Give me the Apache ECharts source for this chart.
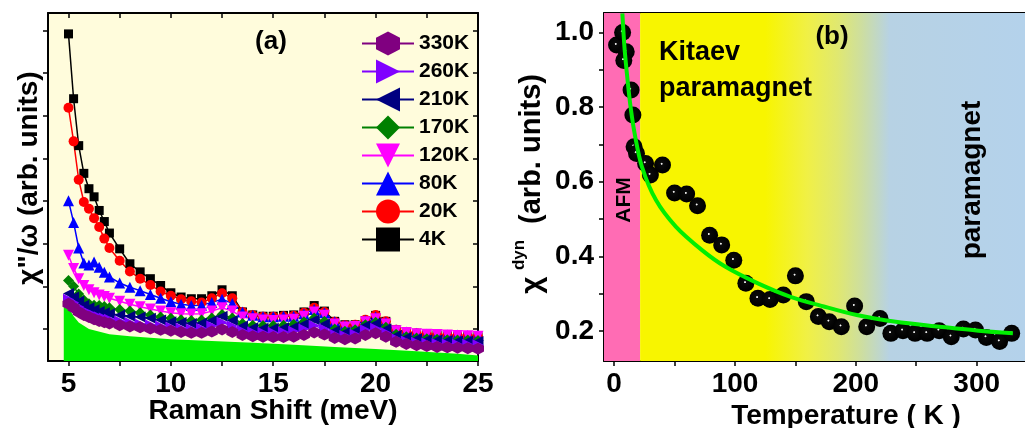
<!DOCTYPE html>
<html>
<head>
<meta charset="utf-8">
<script src="https://cdn.jsdelivr.net/npm/echarts@6/dist/echarts.min.js"></script>
<style>
html,body{margin:0;padding:0;background:#fff;}
#c{width:1025px;height:428px;}
</style>
</head>
<body>
<div id="c"></div>
<script>
// ---------- Panel (a) data: Raman shift (meV) and chi''/omega (arb. units) ----------
const ramanShift = [5,5.25,5.5,5.75,6,6.25,6.5,6.75,7,7.5,8,8.5,9,9.5,10,10.5,11,11.5,12,12.5,13,13.5,14,14.5,15,15.5,16,16.5,17,17.5,18,18.5,19,19.5,20,20.5,21,21.5,22,22.5,23,23.5,24,24.5,25];
const chi4K   = [7.92,6.4,5.3,4.65,4.29,4.1,3.78,3.52,3.25,2.88,2.53,2.34,2.18,2.02,1.85,1.75,1.71,1.71,1.78,1.92,1.78,1.40,1.33,1.30,1.30,1.32,1.33,1.40,1.55,1.42,1.18,1.10,1.10,1.20,1.32,1.18,0.98,0.93,0.90,0.88,0.86,0.85,0.84,0.83,0.82];
const chi20K  = [6.19,5.4,4.5,3.98,3.82,3.6,3.39,3.12,2.9,2.6,2.35,2.18,2.03,1.88,1.78,1.70,1.65,1.62,1.72,1.84,1.72,1.40,1.32,1.29,1.29,1.30,1.31,1.38,1.50,1.40,1.17,1.09,1.10,1.22,1.33,1.18,0.98,0.93,0.90,0.88,0.86,0.85,0.84,0.83,0.82];
const chi80K  = [4.01,3.5,2.9,2.55,2.5,2.57,2.45,2.33,2.22,2.08,1.98,1.90,1.81,1.72,1.64,1.58,1.55,1.56,1.62,1.70,1.60,1.40,1.32,1.29,1.29,1.30,1.30,1.36,1.46,1.38,1.17,1.08,1.09,1.20,1.28,1.16,0.98,0.93,0.90,0.88,0.87,0.86,0.86,0.85,0.85];
const chi120K = [2.73,2.42,2.18,2.02,1.92,1.85,1.80,1.76,1.72,1.65,1.58,1.52,1.47,1.42,1.38,1.36,1.35,1.36,1.42,1.50,1.42,1.28,1.24,1.21,1.20,1.21,1.23,1.30,1.40,1.32,1.12,1.05,1.06,1.17,1.24,1.12,0.96,0.92,0.89,0.88,0.87,0.86,0.85,0.84,0.83];
const chi170K = [2.14,2.0,1.82,1.68,1.59,1.56,1.55,1.53,1.50,1.46,1.42,1.38,1.33,1.28,1.25,1.22,1.20,1.21,1.26,1.34,1.26,1.13,1.09,1.08,1.08,1.09,1.11,1.17,1.26,1.18,1.00,0.95,0.98,1.10,1.16,1.04,0.88,0.82,0.79,0.77,0.76,0.75,0.74,0.74,0.73];
const chi210K = [1.83,1.75,1.65,1.56,1.50,1.45,1.41,1.38,1.36,1.33,1.30,1.28,1.25,1.21,1.17,1.15,1.13,1.14,1.20,1.30,1.20,1.07,1.03,1.02,1.02,1.03,1.05,1.12,1.22,1.12,0.96,0.92,0.95,1.08,1.13,1.00,0.85,0.80,0.77,0.75,0.74,0.73,0.72,0.72,0.71];
const chi260K = [1.70,1.62,1.52,1.44,1.38,1.33,1.29,1.26,1.23,1.19,1.15,1.12,1.10,1.07,1.04,1.02,1.00,1.01,1.07,1.16,1.07,0.96,0.93,0.92,0.92,0.93,0.95,1.00,1.08,1.00,0.88,0.85,0.88,0.98,1.02,0.92,0.78,0.72,0.69,0.67,0.66,0.65,0.64,0.64,0.63];
const chi330K = [1.59,1.50,1.40,1.33,1.28,1.23,1.19,1.16,1.13,1.09,1.06,1.04,1.01,0.98,0.96,0.93,0.91,0.91,0.94,0.99,0.93,0.86,0.83,0.82,0.81,0.81,0.82,0.86,0.92,0.87,0.79,0.76,0.78,0.86,0.90,0.82,0.70,0.65,0.62,0.60,0.58,0.57,0.56,0.55,0.54];
const fillX = [4.77,5,5.25,5.5,6,7,8,10,12,14,16,18,20,22,24,25];
const fillY = [1.58,1.5,1.3,1.15,1.0,0.88,0.83,0.76,0.72,0.68,0.63,0.58,0.53,0.48,0.42,0.38];
const legendNames = ['330K','260K','210K','170K','120K','80K','20K','4K'];
const ramanTicks = [5,7.5,10,12.5,15,17.5,20,22.5,25];
const ramanLabels = [5,10,15,20,25];
const chiTicks = [1,2,3,4,5,6,7,8];

// ---------- Panel (b) data: temperature (K) and chi_dyn ----------
const tempK  = [2,7,10,8,14,15.5,16.5,18.5,26,30,40,50,60,69,79,89,99,109,119,129,140,150,159,169,178,188,199,209,220,229,239,249,259,269,279,289,299,308,319,329];
const chiDyn = [0.966,1.0,0.948,0.925,0.846,0.779,0.694,0.676,0.649,0.618,0.645,0.570,0.567,0.536,0.457,0.431,0.390,0.328,0.288,0.285,0.297,0.348,0.279,0.239,0.225,0.212,0.267,0.212,0.234,0.194,0.201,0.194,0.194,0.201,0.185,0.206,0.203,0.183,0.172,0.194];
const fitT = [6.8,8.7,11.4,13.6,16.9,23,34.6,51,72.7,91.8,119,146,173.5,200.7,233,269,301.5,330];
const fitV = [1.051,0.953,0.863,0.80,0.73,0.64,0.551,0.48,0.417,0.373,0.328,0.292,0.266,0.243,0.225,0.212,0.201,0.194];
const afmRange = [-8.4, 21.5];
const paraRange = [21.5, 340];
const tempTicks = [0,50,100,150,200,250,300];
const tempLabels = [0,100,200,300];
const dynTicks = [0.2,0.3,0.4,0.5,0.6,0.7,0.8,0.9,1.0];
const dynLabels = [0.2,0.4,0.6,0.8,1.0];

const FONT = 'Liberation Sans, Arial, sans-serif';
const pair = (xs, ys) => xs.map((x, i) => [x, ys[i]]);

const hexSym = 'path://M5,0L10,2.9L10,8.1L5,11L0,8.1L0,2.9Z';
const rightTri = 'path://M0,0L10,5L0,10Z';
const leftTri = 'path://M10,0L0,5L10,10Z';
const downTri = 'path://M0,0L10,0L5,10Z';

function lineSeries(name, vals, color, symbol, size) {
  return {
    name, type: 'line', xAxisIndex: 0, yAxisIndex: 0,
    data: pair(ramanShift, vals),
    symbol, symbolSize: size, showSymbol: true,
    lineStyle: { color, width: 1.5 },
    itemStyle: { color, opacity: 1 },
    emphasis: { disabled: true },
    z: 3
  };
}

const axisLineStyle = { show: true, onZero: false, lineStyle: { color: '#000', width: 2 } };
const labelStyle = { fontSize: 28, fontWeight: 'bold', fontFamily: FONT, color: '#000' };

const option = {
  animation: false,
  backgroundColor: '#fff',
  grid: [
    { left: 48, top: 13, width: 430, height: 348, show: true, backgroundColor: '#fffcdc', borderWidth: 0 },
    { left: 604, top: 13, width: 426.5, height: 348, show: false }
  ],
  xAxis: [
    { gridIndex: 0, type: 'value', position: 'bottom', min: 4, max: 25,
      axisLine: axisLineStyle,
      axisTick: { show: true, inside: false, length: 5, lineStyle: { width: 1.5, color: '#000' }, customValues: ramanTicks },
      axisLabel: Object.assign({ show: true, margin: 9, customValues: ramanLabels }, labelStyle),
      splitLine: { show: false } },
    { gridIndex: 0, type: 'value', position: 'top', min: 4, max: 25,
      axisLine: axisLineStyle,
      axisTick: { show: true, inside: true, length: 5, lineStyle: { width: 1.5, color: '#000' }, customValues: ramanTicks },
      axisLabel: { show: false }, splitLine: { show: false } },
    { gridIndex: 1, type: 'value', position: 'bottom', min: -8.4, max: 340,
      axisLine: axisLineStyle,
      axisTick: { show: true, inside: false, length: 5, lineStyle: { width: 1.5, color: '#000' }, customValues: tempTicks },
      axisLabel: Object.assign({ show: true, margin: 9, customValues: tempLabels }, labelStyle),
      splitLine: { show: false } },
    { gridIndex: 1, type: 'value', position: 'top', min: -8.4, max: 340,
      axisLine: axisLineStyle,
      axisTick: { show: true, inside: true, length: 5, lineStyle: { width: 1.5, color: '#000' }, customValues: tempTicks },
      axisLabel: { show: false }, splitLine: { show: false } }
  ],
  yAxis: [
    { gridIndex: 0, type: 'value', position: 'left', min: 0.25, max: 8.41,
      axisLine: axisLineStyle,
      axisTick: { show: true, inside: false, length: 5, lineStyle: { width: 1.5, color: '#000' }, customValues: chiTicks },
      axisLabel: { show: false }, splitLine: { show: false } },
    { gridIndex: 0, type: 'value', position: 'right', min: 0.25, max: 8.41,
      axisLine: axisLineStyle,
      axisTick: { show: true, inside: true, length: 5, lineStyle: { width: 1.5, color: '#000' }, customValues: chiTicks },
      axisLabel: { show: false }, splitLine: { show: false } },
    { gridIndex: 1, type: 'value', position: 'left', min: 0.12, max: 1.052,
      axisLine: axisLineStyle,
      axisTick: { show: true, inside: false, length: 5, lineStyle: { width: 1.5, color: '#000' }, customValues: dynTicks },
      axisLabel: Object.assign({ show: true, margin: 10, customValues: dynLabels, formatter: v => Number(v).toFixed(1) }, labelStyle),
      splitLine: { show: false } }
  ],
  legend: {
    data: legendNames,
    orient: 'vertical', left: 356, top: 26.5,
    itemWidth: 52, itemHeight: 30, itemGap: 4,
    textStyle: { fontSize: 21, fontWeight: 'bold', fontFamily: FONT, color: '#000' },
    selectedMode: false
  },
  series: [
    { name: 'fill', type: 'line', xAxisIndex: 0, yAxisIndex: 0, data: pair(fillX, fillY),
      showSymbol: false, symbol: 'none', lineStyle: { width: 0 }, itemStyle: { color: '#00ee00' },
      areaStyle: { color: '#00ee00', opacity: 1, origin: 'start' }, z: 2, silent: true },
    lineSeries('4K', chi4K, '#000000', 'rect', 9),
    lineSeries('20K', chi20K, '#ff0000', 'circle', 10),
    lineSeries('80K', chi80K, '#0000ff', 'triangle', 11),
    lineSeries('120K', chi120K, '#ff00ff', downTri, 11),
    lineSeries('170K', chi170K, '#008000', 'diamond', 11),
    lineSeries('210K', chi210K, '#000080', leftTri, 11),
    lineSeries('260K', chi260K, '#8000ff', rightTri, 11),
    lineSeries('330K', chi330K, '#800080', hexSym, 12),
    // panel (b) background regions
    { name: 'bg', type: 'line', xAxisIndex: 2, yAxisIndex: 2, data: [], z: 1, silent: true,
      markArea: { silent: true, label: { show: false },
        data: [
          [{ xAxis: afmRange[0], itemStyle: { color: '#ff6cb4', opacity: 1 } }, { xAxis: afmRange[1] }],
          [{ xAxis: paraRange[0], itemStyle: { opacity: 1, color: { type: 'linear', x: 0, y: 0, x2: 1, y2: 0, colorStops: [
              { offset: 0, color: '#f8f500' }, { offset: 0.325, color: '#f8f500' },
              { offset: 0.435, color: '#f0f046' }, { offset: 0.513, color: '#e0e870' },
              { offset: 0.576, color: '#cddea0' }, { offset: 0.648, color: '#b7d2e4' },
              { offset: 1, color: '#b4d2eb' } ] } } }, { xAxis: paraRange[1] }]
        ] } },
    { name: 'chiDyn', type: 'scatter', xAxisIndex: 2, yAxisIndex: 2, data: pair(tempK, chiDyn),
      symbol: 'circle', symbolSize: 17, z: 4,
      itemStyle: { opacity: 1, color: { type: 'radial', x: 0.45, y: 0.43, r: 0.5, colorStops: [
        { offset: 0, color: '#ffffff' }, { offset: 0.07, color: '#e0e0e0' }, { offset: 0.16, color: '#0a0a0a' }, { offset: 1, color: '#000000' } ] } } },
    { name: 'fit', type: 'line', xAxisIndex: 2, yAxisIndex: 2, data: pair(fitT, fitV),
      smooth: 0.3, showSymbol: false, symbol: 'none', clip: true,
      lineStyle: { color: '#00ee00', width: 4 }, z: 5, silent: true }
  ],
  graphic: [
    { type: 'text', x: 271, y: 42, style: { text: '(a)', font: 'bold 26px ' + FONT, fill: '#000', align: 'center', verticalAlign: 'middle' }, z: 100 },
    { type: 'text', x: 29, y: 178, rotation: Math.PI / 2, style: { text: 'χ"/ω (arb. units)', font: 'bold 28px ' + FONT, fill: '#000', align: 'center', verticalAlign: 'middle' }, z: 100 },
    { type: 'text', x: 273, y: 411, style: { text: 'Raman Shift (meV)', font: 'bold 28px ' + FONT, fill: '#000', align: 'center', verticalAlign: 'middle' }, z: 100 },
    { type: 'text', x: 846, y: 416, style: { text: 'Temperature ( K )', font: 'bold 28px ' + FONT, fill: '#000', align: 'center', verticalAlign: 'middle' }, z: 100 },
    { type: 'text', x: 832, y: 37, style: { text: '(b)', font: 'bold 26px ' + FONT, fill: '#000', align: 'center', verticalAlign: 'middle' }, z: 100 },
    { type: 'text', x: 659, y: 53, style: { text: 'Kitaev', font: 'bold 27px ' + FONT, fill: '#000', align: 'left', verticalAlign: 'middle' }, z: 100 },
    { type: 'text', x: 659, y: 89, style: { text: 'paramagnet', font: 'bold 27px ' + FONT, fill: '#000', align: 'left', verticalAlign: 'middle' }, z: 100 },
    { type: 'text', x: 624, y: 200, rotation: Math.PI / 2, style: { text: 'AFM', font: 'bold 21px ' + FONT, fill: '#000', align: 'center', verticalAlign: 'middle' }, z: 100 },
    { type: 'text', x: 972, y: 180, rotation: Math.PI / 2, style: { text: 'paramagnet', font: 'bold 28px ' + FONT, fill: '#000', align: 'center', verticalAlign: 'middle' }, z: 100 },
    { type: 'text', x: 533, y: 285, rotation: Math.PI / 2, style: { text: 'χ', font: 'bold 30px ' + FONT, fill: '#000', align: 'center', verticalAlign: 'middle' }, z: 100 },
    { type: 'text', x: 519, y: 255, rotation: Math.PI / 2, style: { text: 'dyn', font: 'bold 17px ' + FONT, fill: '#000', align: 'center', verticalAlign: 'middle' }, z: 100 },
    { type: 'text', x: 532, y: 149, rotation: Math.PI / 2, style: { text: '(arb. units)', font: 'bold 29px ' + FONT, fill: '#000', align: 'center', verticalAlign: 'middle' }, z: 100 }
  ]
};

const chart = echarts.init(document.getElementById('c'), null, { renderer: 'canvas' });
chart.setOption(option);
</script>
</body>
</html>
